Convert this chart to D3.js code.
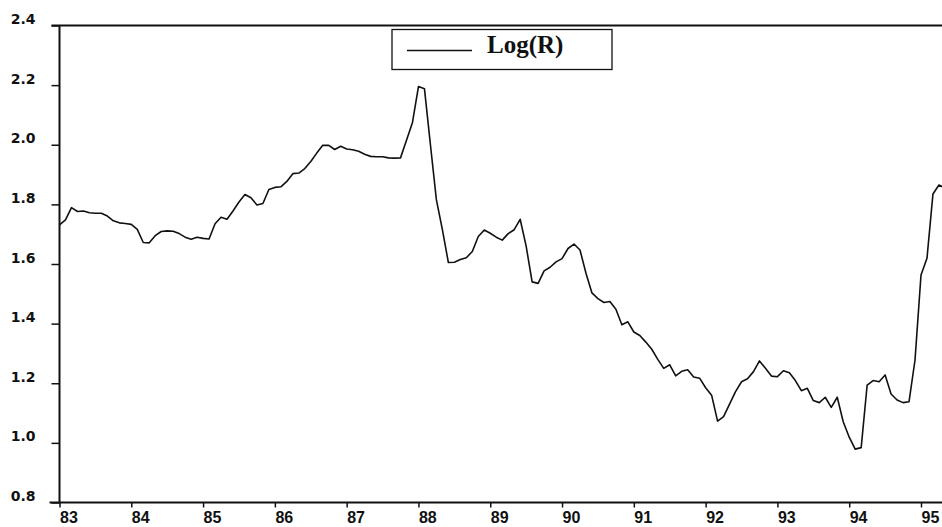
<!DOCTYPE html>
<html>
<head>
<meta charset="utf-8">
<script src="https://cdn.jsdelivr.net/npm/d3@7"></script>
<style>
  html, body { margin: 0; padding: 0; background: #fff; }
  svg { display: block; }
</style>
</head>
<body>
<svg id="chart" width="942" height="527"></svg>
<script>
// Monthly series of Log(R), January 1983 onwards
const startYear = 83;
const logR = [
  1.731, 1.748, 1.789, 1.776, 1.778, 1.772, 1.770, 1.770, 1.761, 1.745, 1.738, 1.736,
  1.733, 1.716, 1.672, 1.671, 1.695, 1.709, 1.711, 1.710, 1.702, 1.690, 1.683, 1.690,
  1.686, 1.684, 1.735, 1.757, 1.750, 1.778, 1.808, 1.833, 1.822, 1.798, 1.803, 1.850,
  1.857, 1.859, 1.877, 1.903, 1.905, 1.920, 1.944, 1.972, 1.998, 1.998, 1.984, 1.995,
  1.986, 1.983, 1.978, 1.968, 1.961, 1.960, 1.960, 1.956, 1.955, 1.956, 2.015, 2.075,
  2.195, 2.188, 2.000, 1.815, 1.715, 1.605, 1.606, 1.615, 1.621, 1.642, 1.692, 1.714,
  1.703, 1.690, 1.680, 1.702, 1.715, 1.750, 1.660, 1.540, 1.535, 1.577, 1.589, 1.607,
  1.618, 1.652, 1.667, 1.647, 1.569, 1.503, 1.484, 1.471, 1.474, 1.448, 1.396, 1.406,
  1.372, 1.360, 1.338, 1.314, 1.280, 1.250, 1.262, 1.225, 1.240, 1.245, 1.221, 1.217,
  1.185, 1.160, 1.073, 1.088, 1.130, 1.172, 1.205, 1.215, 1.239, 1.275, 1.250, 1.224,
  1.222, 1.242, 1.235, 1.209, 1.175, 1.183, 1.142, 1.135, 1.153, 1.119, 1.153, 1.071,
  1.019, 0.979, 0.984, 1.194, 1.209, 1.205, 1.228, 1.164, 1.144, 1.135, 1.138, 1.278,
  1.563, 1.619, 1.835, 1.865, 1.855
];
const yearTicks = [83, 84, 85, 86, 87, 88, 89, 90, 91, 92, 93, 94, 95];
const valueTicks = [0.8, 1.0, 1.2, 1.4, 1.6, 1.8, 2.0, 2.2, 2.4];
const seriesName = "Log(R)";

const svg = d3.select("#chart");
const W = 942, H = 527;

const x = d3.scaleLinear().domain([83, 95]).range([59.5, 921]);
const y = d3.scaleLinear().domain([0.8, 2.4]).range([502.5, 25.5]);

const points = logR.map((v, i) => ({ t: startYear + i / 12, v }));

// data line
svg.append("path")
  .datum(points)
  .attr("fill", "none")
  .attr("stroke", "#111")
  .attr("stroke-width", 1.6)
  .attr("stroke-linejoin", "round")
  .attr("d", d3.line().x(d => x(d.t)).y(d => y(d.v)));

// left axis
const yAxis = svg.append("g")
  .attr("transform", `translate(${x(83)},0)`)
  .call(d3.axisLeft(y).tickValues(valueTicks).tickSize(8).tickPadding(16)
    .tickFormat(d3.format(".1f")));
yAxis.select(".domain").remove();
yAxis.selectAll(".tick line").attr("stroke", "#111").attr("stroke-width", 1.5);
yAxis.selectAll(".tick text")
  .attr("fill", "#111")
  .attr("dy", "-2px")
  .style("font-family", "'DejaVu Sans', sans-serif")
  .style("font-weight", "bold")
  .style("font-size", "14px");

// bottom axis
const xAxis = svg.append("g")
  .attr("transform", `translate(0,${y(0.8)})`)
  .call(d3.axisBottom(x).tickValues(yearTicks).tickSize(5).tickPadding(4)
    .tickFormat(d => d3.format("02d")(d)));
xAxis.select(".domain").remove();
xAxis.selectAll(".tick line").attr("stroke", "#111").attr("stroke-width", 1.5);
xAxis.selectAll(".tick text")
  .attr("fill", "#111")
  .attr("text-anchor", "start")
  .attr("x", 0)
  .attr("dy", "0.7em")
  .style("font-family", "'Liberation Sans', Arial, sans-serif")
  .style("font-weight", "bold")
  .style("font-size", "16px");

// frame: left, bottom and top edges
const frame = svg.append("g").attr("stroke", "#111").attr("stroke-width", 2);
frame.append("line")
  .attr("x1", x(83)).attr("x2", x(83))
  .attr("y1", y(2.4)).attr("y2", y(0.8));
frame.append("line")
  .attr("x1", x(83) - 10).attr("x2", W)
  .attr("y1", y(0.8)).attr("y2", y(0.8));
frame.append("line")
  .attr("x1", x(83) - 8).attr("x2", W)
  .attr("y1", y(2.4)).attr("y2", y(2.4));

// legend
const legend = svg.append("g").attr("transform", "translate(392,29.5)");
legend.append("rect")
  .attr("width", 220).attr("height", 40)
  .attr("fill", "#fff").attr("stroke", "#111").attr("stroke-width", 1.3);
legend.append("line")
  .attr("x1", 15).attr("x2", 80).attr("y1", 21).attr("y2", 21)
  .attr("stroke", "#111").attr("stroke-width", 1.3);
legend.append("text")
  .attr("x", 95).attr("y", 23.5)
  .attr("fill", "#111")
  .style("font-family", "'Liberation Serif', 'Times New Roman', serif")
  .style("font-weight", "bold")
  .style("font-size", "25px")
  .text(seriesName);
</script>
</body>
</html>
